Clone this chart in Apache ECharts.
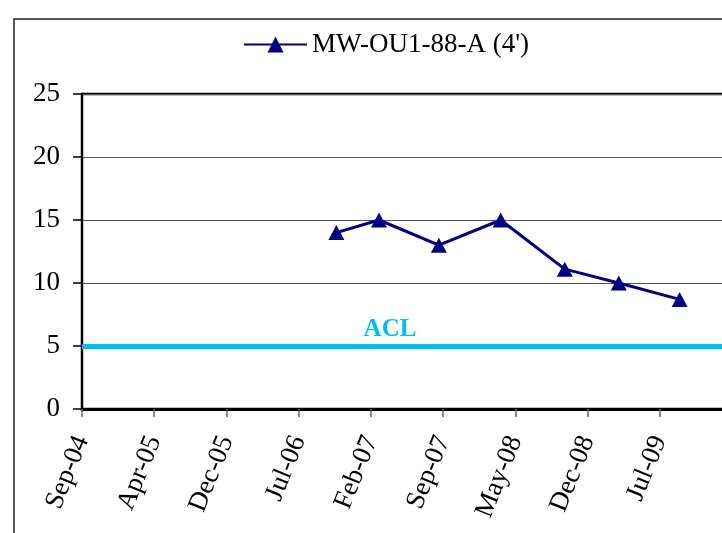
<!DOCTYPE html>
<html>
<head>
<meta charset="utf-8">
<script src="https://cdn.jsdelivr.net/npm/echarts@6/dist/echarts.min.js"></script>
<style>
  html, body { margin: 0; padding: 0; background: #fff; overflow: hidden; }
  #chart { width: 760px; height: 533px; }
</style>
</head>
<body>
<div id="chart"></div>
<script>
var chart = echarts.init(document.getElementById('chart'));

// data
var seriesName = "MW-OU1-88-A (4')";
var sampleDates = ['2006-11-04', '2007-03-15', '2007-09-15', '2008-03-23', '2008-10-06', '2009-03-21', '2009-09-24'];
var sampleValues = [14, 15, 13, 15, 11.1, 10, 8.7];
var aclValue = 5;
var aclLabel = 'ACL';
// date axis: first tick Sep-04, a tick every 222 days
var axisStart = '2004-09-13';
var tickDays = 222;
var tickCount = 9;
var months = ['Jan', 'Feb', 'Mar', 'Apr', 'May', 'Jun', 'Jul', 'Aug', 'Sep', 'Oct', 'Nov', 'Dec'];

var DAY = 86400000;
var t0 = Date.parse(axisStart + 'T00:00:00Z');
function toDays(s) {
    return Math.round((Date.parse(s + 'T00:00:00Z') - t0) / DAY);
}
function dayLabel(d) {
    var dt = new Date(t0 + d * DAY);
    var yy = String(dt.getUTCFullYear() % 100);
    if (yy.length < 2) yy = '0' + yy;
    return months[dt.getUTCMonth()] + '-' + yy;
}

var points = sampleDates.map(function (s, i) { return [toDays(s), sampleValues[i]]; });
var serif = "'Liberation Serif', 'Times New Roman', serif";

var option = {
    animation: false,
    textStyle: { fontFamily: serif, color: '#000' },
    graphic: [
        {   // outer chart frame
            type: 'rect',
            shape: { x: 14, y: 19, width: 800, height: 600 },
            style: { fill: 'none', stroke: '#222', lineWidth: 1.5 },
            z: 0
        }
    ],
    legend: {
        data: [seriesName],
        left: 238,
        top: 26,
        itemWidth: 63,
        itemHeight: 20,
        itemGap: 6,
        textStyle: { fontFamily: serif, fontSize: 27, color: '#000' }
    },
    grid: {
        left: 82,
        top: 94,
        right: 28,
        bottom: 124,
        show: true,
        borderColor: '#000',
        borderWidth: 2.5,
        backgroundColor: 'transparent'
    },
    xAxis: {
        type: 'value',
        min: 0,
        max: tickDays * tickCount,
        interval: tickDays,
        splitLine: { show: false },
        axisLine: { onZero: false, lineStyle: { color: '#000', width: 3 } },
        axisTick: { show: true, length: 8, lineStyle: { color: '#666', width: 1.5 } },
        axisLabel: {
            rotate: 68,
            margin: 28,
            fontSize: 27,
            color: '#000',
            fontFamily: serif,
            showMaxLabel: false,
            formatter: dayLabel
        }
    },
    yAxis: {
        type: 'value',
        min: 0,
        max: 25,
        interval: 5,
        axisLine: { show: true, lineStyle: { color: '#000', width: 2 } },
        axisTick: { show: true, length: 9, lineStyle: { color: '#000', width: 1.5 } },
        splitLine: { show: true, lineStyle: { color: '#555', width: 1.2 } },
        axisLabel: { margin: 22, fontSize: 27, color: '#000', fontFamily: serif }
    },
    series: [
        {
            name: seriesName,
            type: 'line',
            data: points,
            symbol: 'triangle',
            symbolSize: [16, 15],
            color: '#000080',
            lineStyle: { color: '#000080', width: 3 },
            itemStyle: { color: '#000080' },
            markLine: {
                silent: true,
                symbol: ['none', 'none'],
                lineStyle: { color: '#00BFF0', width: 5, type: 'solid' },
                label: {
                    show: true,
                    position: 'middle',
                    formatter: aclLabel,
                    color: '#00BFF0',
                    fontWeight: 'bold',
                    fontFamily: serif,
                    fontSize: 25,
                    distance: 4,
                    offset: [-17, 0]
                },
                data: [{ yAxis: aclValue }]
            }
        }
    ]
};

chart.setOption(option);
</script>
</body>
</html>
